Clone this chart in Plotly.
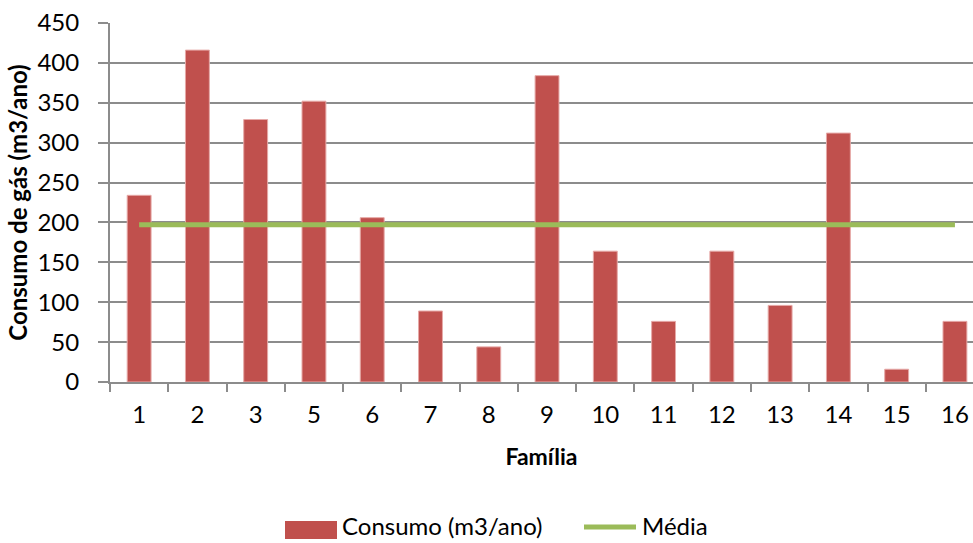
import plotly.graph_objects as go

# Consumo anual de gás por família
familias = ["1", "2", "3", "5", "6", "7", "8", "9", "10", "11", "12", "13", "14", "15", "16"]
consumo = [234, 416, 329, 352, 206, 89, 44, 384, 164, 76, 164, 96, 312, 16, 76]
media = sum(consumo) / len(consumo)
y_ticks = [0, 50, 100, 150, 200, 250, 300, 350, 400, 450]

BAR_COLOR = "#C0504D"
LINE_COLOR = "#9BBB59"
GRID_COLOR = "#8C8C8C"
FONT = "Lato"

fig = go.Figure()

fig.add_trace(go.Bar(
    x=familias,
    y=consumo,
    name="Consumo (m3/ano)",
    marker=dict(color=BAR_COLOR, line=dict(color="#E6A9A7", width=1)),
    width=0.41,
    showlegend=False,
))

fig.add_trace(go.Scatter(
    x=[familias[0], familias[-1]],
    y=[media, media],
    mode="lines",
    name="Média",
    line=dict(color=LINE_COLOR, width=5),
    showlegend=False,
))

W, H = 973, 543
L, R, T, B = 110, 0, 23, 161

fig.update_layout(
    width=W,
    height=H,
    margin=dict(l=L, r=R, t=T, b=B, pad=0),
    paper_bgcolor="white",
    plot_bgcolor="white",
    font=dict(family=FONT, size=24, color="#000000"),
    bargap=0.59,
    xaxis=dict(
        type="category",
        range=[-0.5, 14.31],
        tickson="boundaries",
        ticks="outside",
        ticklen=8,
        tickwidth=2,
        tickcolor=GRID_COLOR,
        showline=True,
        linecolor=GRID_COLOR,
        linewidth=2,
        showgrid=False,
        ticklabelstandoff=10,
        title=dict(text="<b>Família</b>", font=dict(size=23), standoff=22),
    ),
    yaxis=dict(
        range=[0, 450],
        tickvals=y_ticks,
        ticks="outside",
        ticklen=10,
        tickwidth=2,
        tickcolor=GRID_COLOR,
        showline=True,
        linecolor=GRID_COLOR,
        linewidth=2,
        showgrid=True,
        gridcolor=GRID_COLOR,
        gridwidth=2,
        zeroline=False,
        ticklabelstandoff=14,
        title=dict(text="<b>Consumo de gás (m3/ano)</b>", font=dict(size=24), standoff=3),
    ),
)

# Legenda desenhada à mão: retângulo vermelho e traço verde com os rótulos.
# Coordenadas "paper" são relativas à área do gráfico, por isso a conversão.
PW, PH = W - L - R, H - T - B

def px_x(v):
    return (v - L) / PW

def px_y(v):
    return (H - B - v) / PH

fig.add_shape(type="rect", xref="paper", yref="paper",
              x0=px_x(285), x1=px_x(337), y0=px_y(539), y1=px_y(521),
              fillcolor=BAR_COLOR, line=dict(width=0))
fig.add_annotation(xref="paper", yref="paper", x=px_x(340), y=px_y(542),
                   text="Consumo (m3/ano)", showarrow=False,
                   xanchor="left", yanchor="bottom", font=dict(size=24))
fig.add_shape(type="line", xref="paper", yref="paper",
              x0=px_x(584), x1=px_x(636), y0=px_y(527), y1=px_y(527),
              line=dict(color=LINE_COLOR, width=5))
fig.add_annotation(xref="paper", yref="paper", x=px_x(640), y=px_y(542),
                   text="Média", showarrow=False,
                   xanchor="left", yanchor="bottom", font=dict(size=24))

fig.write_html("out.html")
